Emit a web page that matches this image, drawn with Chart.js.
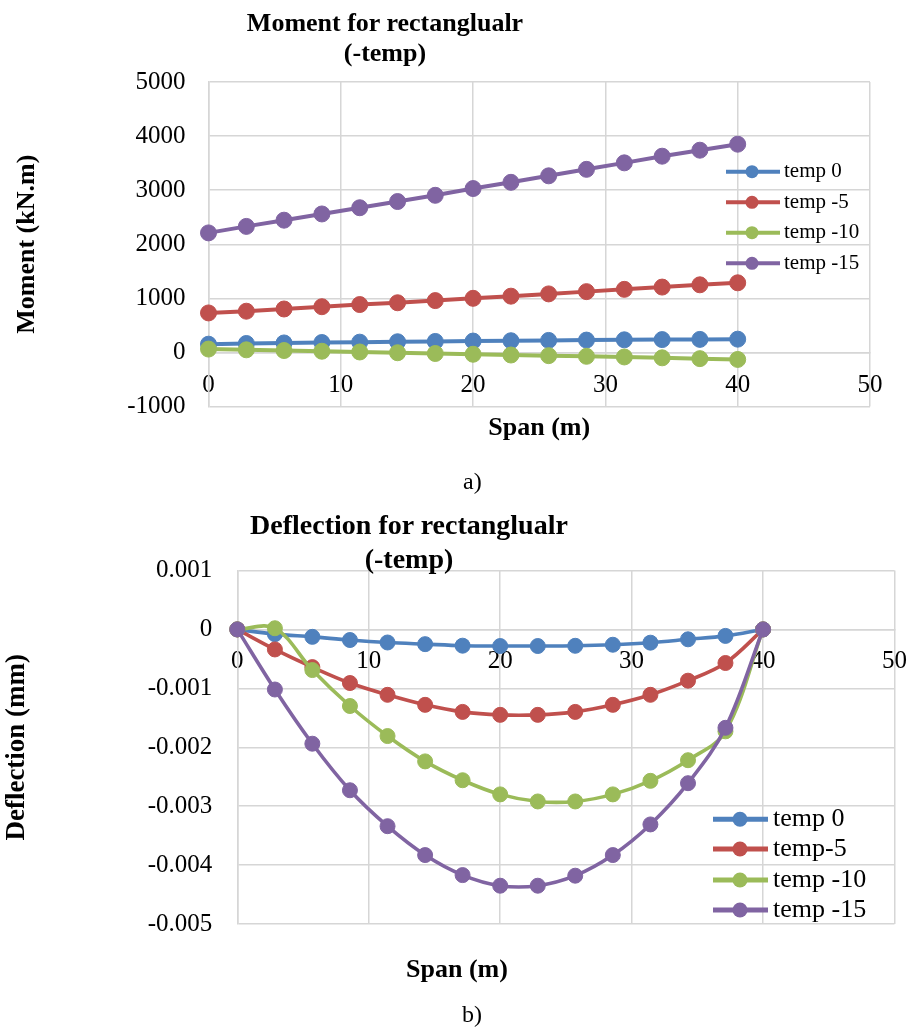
<!DOCTYPE html>
<html>
<head>
<meta charset="utf-8">
<script src="https://cdn.jsdelivr.net/npm/chart.js@4.4.1/dist/chart.umd.min.js"></script>
<style>
  html, body { margin: 0; padding: 0; background: #fff; }
  body { position: relative; width: 924px; height: 1028px; overflow: hidden;
         font-family: 'Liberation Serif', 'Times New Roman', serif; color: #000; }
  .abs { position: absolute; white-space: nowrap; }
  .ttl { font-weight: bold; text-align: center; }
  canvas { display: block; }
</style>
</head>
<body>
<div class="abs" style="left:0;top:0;width:924px;height:500px;"><canvas id="c1" width="924" height="500"></canvas></div>
<div class="abs" style="left:0;top:500px;width:924px;height:528px;"><canvas id="c2" width="924" height="528"></canvas></div>

<div class="abs ttl" style="left:135px;top:8px;width:500px;font-size:26px;line-height:30px;">Moment for rectanglualr<br>(-temp)</div>
<div class="abs" style="left:463px;top:469px;font-size:24px;line-height:24px;">a)</div>

<div class="abs ttl" style="left:159px;top:508px;width:500px;font-size:28px;line-height:34px;">Deflection for rectanglualr<br>(-temp)</div>
<div class="abs ttl" style="left:357px;top:956px;width:200px;font-size:26px;line-height:26px;">Span (m)</div>
<div class="abs" style="left:462px;top:1002px;font-size:24px;line-height:24px;">b)</div>

<script>
// ---------- data ----------
const spanX = [0, 2.86, 5.71, 8.57, 11.43, 14.29, 17.14, 20, 22.86, 25.71, 28.57, 31.43, 34.29, 37.14, 40];

const momentLabels = ['temp 0', 'temp -5', 'temp -10', 'temp -15'];
const momentT0  = [152, 165, 175, 183, 190, 197, 203, 210, 216, 222, 228, 233, 237, 241, 245];
const momentT5  = [730, 762, 803, 845, 885, 918, 958, 1000, 1040, 1082, 1124, 1166, 1208, 1250, 1287];
const momentT10 = [62, 48, 35, 22, 8, -6, -20, -34, -48, -60, -72, -84, -100, -115, -130];
const momentT15 = [2210, 2330, 2445, 2560, 2675, 2790, 2905, 3030, 3145, 3265, 3385, 3505, 3628, 3739, 3850];

const deflLabels = ['temp 0', 'temp-5', 'temp -10', 'temp -15'];
const deflT0  = [0, -0.00008, -0.000126, -0.00018, -0.000222, -0.00025, -0.000276, -0.000282, -0.000282, -0.000278, -0.00026, -0.000225, -0.000168, -0.00011, 0];
const deflT5  = [0, -0.00034, -0.00064, -0.00091, -0.00111, -0.00128, -0.0014, -0.00145, -0.00145, -0.0014, -0.00128, -0.00111, -0.00087, -0.00057, 0];
const deflT10 = [0, 0.00002, -0.00069, -0.0013, -0.00181, -0.00224, -0.00256, -0.0028, -0.00292, -0.00292, -0.0028, -0.00257, -0.00222, -0.00173, 0];
const deflT15 = [0, -0.00102, -0.00194, -0.00273, -0.00334, -0.00383, -0.00417, -0.00435, -0.00435, -0.00418, -0.00383, -0.00331, -0.00261, -0.00167, 0];

const xTickLabels = ['0', '10', '20', '30', '40', '50'];
const momentTickLabels = ['-1000', '0', '1000', '2000', '3000', '4000', '5000'];
const deflTickLabels = ['-0.005', '-0.004', '-0.003', '-0.002', '-0.001', '0', '0.001'];

const seriesColors = ['#4F81BD', '#C0504D', '#9BBB59', '#8064A2'];

// ---------- helpers ----------
Chart.defaults.font.family = "'Liberation Serif', 'Times New Roman', serif";
Chart.defaults.color = '#000';

const GRID = '#d6d6d6';

function pairs(ys) { return spanX.map((x, i) => ({ x: x, y: ys[i] })); }

function makeDatasets(labels, series, radius, width, tension) {
  return series.map((ys, i) => ({
    label: labels[i],
    data: pairs(ys),
    borderColor: seriesColors[i],
    backgroundColor: seriesColors[i],
    pointBackgroundColor: seriesColors[i],
    pointBorderColor: seriesColors[i],
    pointBorderWidth: 1,
    pointRadius: radius,
    pointHoverRadius: radius,
    borderWidth: width,
    tension: tension,
    clip: false,
    order: series.length - i
  }));
}

const boxLegend = {
  id: 'boxLegend',
  afterDatasetsDraw(chart, args, o) {
    const ctx = chart.ctx;
    ctx.save();
    chart.data.datasets.forEach((ds, i) => {
      const y = o.rows[i];
      ctx.strokeStyle = ds.borderColor;
      ctx.lineWidth = o.lineWidth;
      ctx.beginPath(); ctx.moveTo(o.x1, y); ctx.lineTo(o.x2, y); ctx.stroke();
      ctx.fillStyle = ds.borderColor;
      ctx.beginPath(); ctx.arc(o.mx, y, o.r, 0, Math.PI * 2); ctx.fill();
      ctx.fillStyle = '#000';
      ctx.font = o.font;
      ctx.textAlign = 'left';
      ctx.textBaseline = 'middle';
      ctx.fillText(ds.label, o.tx, y);
    });
    ctx.restore();
  }
};

function xScale(tickPad, height, title) {
  return {
    type: 'linear',
    position: { y: 0 },
    min: 0, max: 50,
    ticks: { stepSize: 10, padding: tickPad, font: { size: 25 },
             maxRotation: 0, callback: (v, i) => xTickLabels[i] },
    grid: { color: GRID, lineWidth: 1.5, drawTicks: false },
    border: { color: GRID, width: 1.5 },
    title: title,
    afterFit: (s) => { s.height = height; }
  };
}

// ---------- chart a) ----------
new Chart(document.getElementById('c1'), {
  type: 'line',
  data: { datasets: makeDatasets(momentLabels, [momentT0, momentT5, momentT10, momentT15], 8, 4, 0) },
  plugins: [boxLegend],
  options: {
    responsive: false,
    animation: false,
    layout: { padding: { left: 0, top: 82, right: 54, bottom: 93.5 } },
    scales: {
      x: xScale(18, 91.3, { display: true, text: 'Span (m)', font: { size: 26, weight: 'bold' }, padding: 0 }),
      y: {
        type: 'linear',
        min: -1000, max: 5000,
        ticks: { stepSize: 1000, padding: 23, font: { size: 25 }, callback: (v, i) => momentTickLabels[i] },
        grid: { color: GRID, lineWidth: 1.5, drawTicks: false },
        border: { color: GRID, width: 1.5 },
        title: { display: true, text: 'Moment (kN.m)', font: { size: 26, weight: 'bold' }, padding: { top: 11.4, bottom: 0 } },
        afterFit: (s) => { s.width = 208.5; }
      }
    },
    plugins: {
      legend: { display: false },
      title: { display: false },
      tooltip: { enabled: false },
      boxLegend: { x1: 726, x2: 780, mx: 752, r: 6.5, tx: 784, lineWidth: 4,
                   rows: [171.7, 202.3, 232.7, 263.3], font: "21px 'Liberation Serif', 'Times New Roman', serif" }
    }
  }
});

// ---------- chart b) ----------
new Chart(document.getElementById('c2'), {
  type: 'line',
  data: { datasets: makeDatasets(deflLabels, [deflT0, deflT5, deflT10, deflT15], 7.5, 3.6, 0.35) },
  plugins: [boxLegend],
  options: {
    responsive: false,
    animation: false,
    layout: { padding: { left: 0, top: 70.5, right: 14, bottom: 104 } },
    scales: {
      x: xScale(17, 100, { display: false }),
      y: {
        type: 'linear',
        min: -0.005, max: 0.001,
        ticks: { stepSize: 0.001, padding: 25, font: { size: 25 }, callback: (v, i) => deflTickLabels[i] },
        grid: { color: GRID, lineWidth: 1.5, drawTicks: false },
        border: { color: GRID, width: 1.5 },
        title: { display: true, text: 'Deflection (mm)', font: { size: 27, weight: 'bold' }, padding: { top: 1.3, bottom: 0 } },
        afterFit: (s) => { s.width = 237.3; }
      }
    },
    plugins: {
      legend: { display: false },
      title: { display: false },
      tooltip: { enabled: false },
      boxLegend: { x1: 713, x2: 768, mx: 740, r: 7.5, tx: 773, lineWidth: 5,
                   rows: [319.3, 349, 380, 410], font: "26px 'Liberation Serif', 'Times New Roman', serif" }
    }
  }
});
</script>
</body>
</html>
